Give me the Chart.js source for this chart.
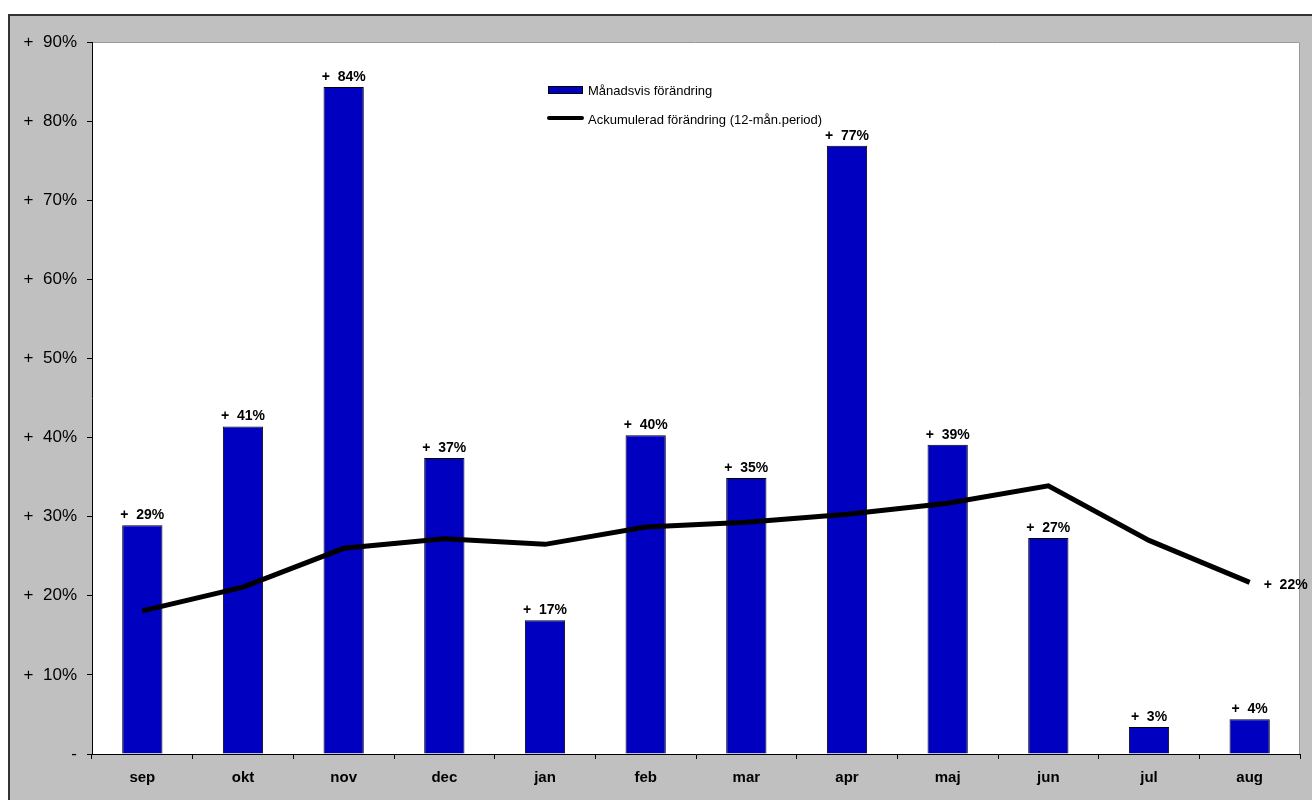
<!DOCTYPE html>
<html>
<head>
<meta charset="utf-8">
<script src="https://cdn.jsdelivr.net/npm/chart.js@4"></script>
<style>
  body { margin: 0; background: #fff; }
  #wrap {
    position: absolute; left: 8px; top: 14px;
    width: 1302px; height: 784px;
    border-left: 2px solid #333; border-top: 2px solid #333;
    background: #c0c0c0;
  }
</style>
</head>
<body>
<div id="wrap"><canvas id="myChart" width="1302" height="784"></canvas></div>
<script>
var months = ['sep', 'okt', 'nov', 'dec', 'jan', 'feb', 'mar', 'apr', 'maj', 'jun', 'jul', 'aug'];
var monthly = [28.9, 41.4, 84.3, 37.4, 16.9, 40.3, 34.9, 76.9, 39.1, 27.3, 3.4, 4.4];
var accumulated = [18.1, 21.1, 26.0, 27.2, 26.5, 28.7, 29.3, 30.3, 31.7, 33.9, 27.0, 21.7];
var monthlyLabel = 'Månadsvis förändring';
var accLabel = 'Ackumulerad förändring (12-mån.period)';

function pct(v) { return v === 0 ? '-' : '+  ' + Math.round(v) + '%'; }

// white plot area
var plotBg = {
    id: 'plotBg',
    beforeDraw(chart) {
        var a = chart.chartArea, ctx = chart.ctx;
        ctx.save();
        ctx.fillStyle = '#fff';
        ctx.fillRect(a.left, a.top, a.right - a.left, a.bottom - a.top);
        ctx.strokeStyle = '#999';
        ctx.lineWidth = 1;
        ctx.beginPath();
        ctx.moveTo(a.left, a.top + 0.5);
        ctx.lineTo(a.right - 0.5, a.top + 0.5);
        ctx.lineTo(a.right - 0.5, a.bottom);
        ctx.stroke();
        ctx.restore();
    }
};

// value labels + legend
var labels = {
    id: 'labels',
    afterDraw(chart) {
        var ctx = chart.ctx;
        ctx.save();
        ctx.fillStyle = '#000';
        ctx.font = 'bold 14px "Liberation Sans", Arial, sans-serif';
        ctx.textAlign = 'center';
        ctx.textBaseline = 'alphabetic';
        chart.getDatasetMeta(1).data.forEach(function (bar, i) {
            ctx.fillText(pct(monthly[i]), bar.x, bar.y - 6);
        });
        var pts = chart.getDatasetMeta(0).data;
        var last = pts[pts.length - 1];
        ctx.textAlign = 'left';
        ctx.fillText(pct(accumulated[accumulated.length - 1]), last.x + 14, last.y + 7);

        // legend
        var lx = 538, ly = 70;
        ctx.fillStyle = '#0000c0';
        ctx.strokeStyle = '#000';
        ctx.lineWidth = 1;
        ctx.fillRect(lx, ly, 35, 8);
        ctx.strokeRect(lx + 0.5, ly + 0.5, 34, 7);
        ctx.fillStyle = '#000';
        ctx.font = '13px "Liberation Sans", Arial, sans-serif';
        ctx.textBaseline = 'middle';
        ctx.fillText(monthlyLabel, lx + 40, ly + 5);
        ctx.lineWidth = 4;
        ctx.lineCap = 'round';
        ctx.beginPath();
        ctx.moveTo(lx + 1, ly + 32);
        ctx.lineTo(lx + 34, ly + 32);
        ctx.stroke();
        ctx.fillText(accLabel, lx + 40, ly + 34);
        ctx.restore();
    }
};

var ctx = document.getElementById('myChart').getContext('2d');
var chart = new Chart(ctx, {
    data: {
        labels: months,
        datasets: [{
            type: 'line',
            label: accLabel,
            data: accumulated,
            borderColor: '#000',
            borderWidth: 5,
            pointRadius: 0,
            tension: 0,
            order: 0
        }, {
            type: 'bar',
            label: monthlyLabel,
            data: monthly,
            backgroundColor: '#0000c0',
            borderColor: '#000',
            borderWidth: 1,
            barPercentage: 0.4,
            categoryPercentage: 1,
            order: 1
        }]
    },
    options: {
        responsive: false,
        animation: false,
        layout: { padding: { top: 26, right: 12, left: 0, bottom: 0 } },
        plugins: { legend: { display: false }, tooltip: { enabled: false } },
        scales: {
            x: {
                offset: true,
                afterFit: function (s) { s.height = 46; },
                border: { color: '#000', width: 1 },
                grid: { offset: true, drawOnChartArea: false, color: '#000', tickLength: 5 },
                ticks: {
                    color: '#000',
                    padding: 10,
                    font: { family: '"Liberation Sans", Arial, sans-serif', size: 15, weight: 'bold' }
                }
            },
            y: {
                min: 0,
                max: 90,
                afterFit: function (s) { s.width = 82; },
                border: { color: '#000', width: 1 },
                grid: { drawOnChartArea: false, color: '#000', tickLength: 5 },
                ticks: {
                    stepSize: 10,
                    color: '#000',
                    padding: 10,
                    font: { family: '"Liberation Sans", Arial, sans-serif', size: 17 },
                    callback: function (v) { return pct(v); }
                }
            }
        }
    },
    plugins: [plotBg, labels]
});
</script>
</body>
</html>
